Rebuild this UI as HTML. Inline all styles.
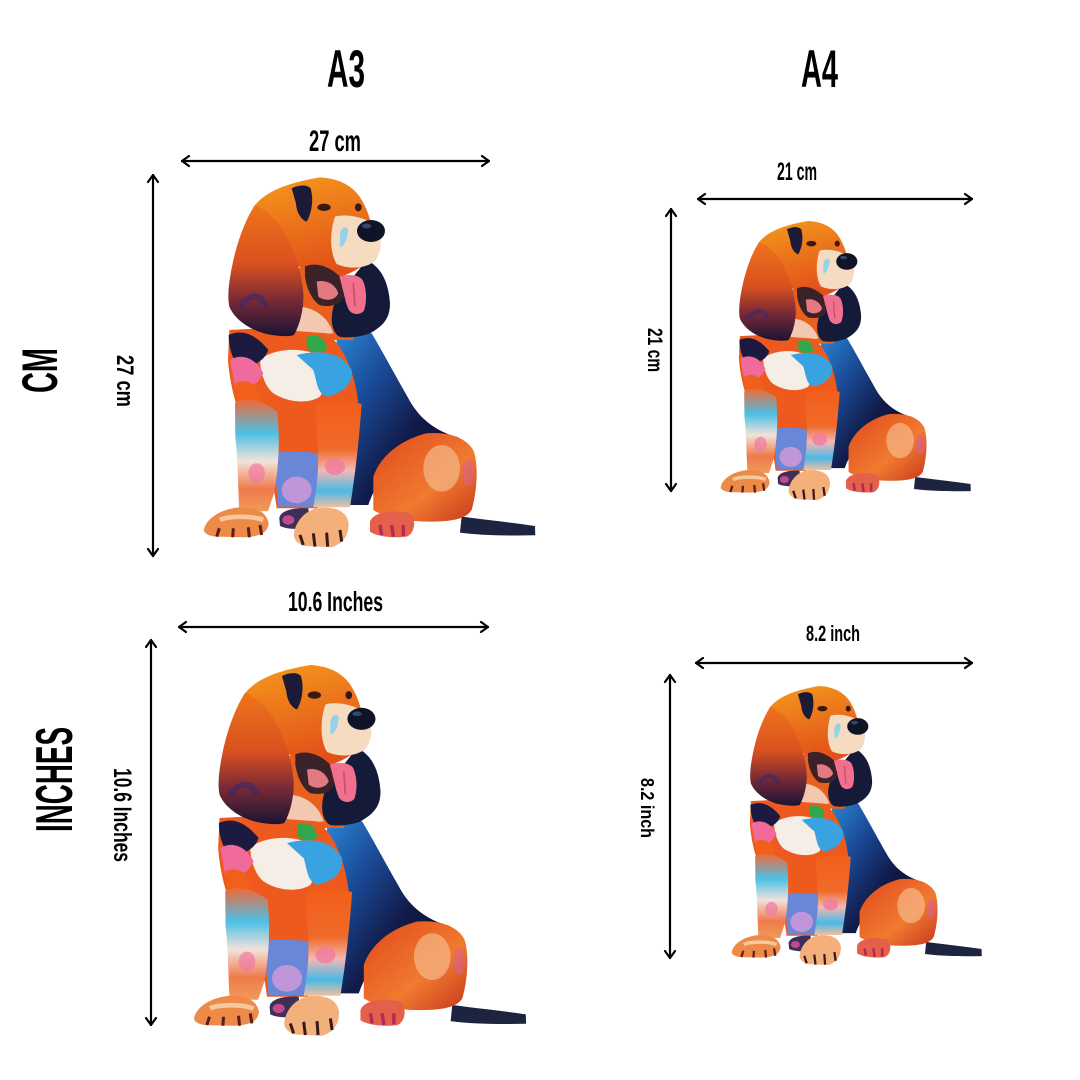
<!DOCTYPE html>
<html><head><meta charset="utf-8"><style>
html,body{margin:0;padding:0;background:#fff;}
svg{display:block;}
text{font-family:"Liberation Sans Narrow","Liberation Sans",sans-serif;font-weight:bold;fill:#000;}
</style></head><body>
<svg width="1080" height="1080" viewBox="0 0 1080 1080" xmlns="http://www.w3.org/2000/svg">
<rect width="1080" height="1080" fill="#fff"/>
<defs>
<linearGradient id="ear" x1="0" y1="0" x2="0" y2="1">
<stop offset="0" stop-color="#ee741c"/><stop offset="0.45" stop-color="#d9501f"/><stop offset="0.72" stop-color="#7a2a36"/><stop offset="1" stop-color="#1a1434"/>
</linearGradient>
<linearGradient id="back" x1="0" y1="0" x2="1" y2="1">
<stop offset="0" stop-color="#2a86d4"/><stop offset="0.3" stop-color="#1a4a96"/><stop offset="0.6" stop-color="#111a48"/><stop offset="1" stop-color="#0b0d28"/>
</linearGradient>
<linearGradient id="head" x1="0" y1="0" x2="0.3" y2="1">
<stop offset="0" stop-color="#f59a1c"/><stop offset="1" stop-color="#e2501a"/>
</linearGradient>
<linearGradient id="thigh" x1="0" y1="0" x2="1" y2="1">
<stop offset="0" stop-color="#e0481a"/><stop offset="0.6" stop-color="#f07a30"/><stop offset="1" stop-color="#c8381c"/>
</linearGradient>
<linearGradient id="lleg" x1="0" y1="0" x2="0" y2="1">
<stop offset="0" stop-color="#ef6a3a"/><stop offset="0.3" stop-color="#4cc0e6"/><stop offset="0.55" stop-color="#f2e2da"/><stop offset="0.8" stop-color="#ef7a4a"/><stop offset="1" stop-color="#f09a5a"/>
</linearGradient>
<linearGradient id="rleg" x1="0" y1="0" x2="0" y2="1">
<stop offset="0" stop-color="#f25e1a"/><stop offset="0.45" stop-color="#f06a2a"/><stop offset="0.65" stop-color="#f3b8b4"/><stop offset="0.85" stop-color="#4ab8e6"/><stop offset="1" stop-color="#f2c0a0"/>
</linearGradient>
<g id="dog">
  <!-- tail -->
  <path d="M965,1190 C1040,1200 1120,1208 1185,1218 L1186,1246 C1100,1248 1020,1246 960,1238 Z" fill="#1c2440"/>
  <!-- body back -->
  <path d="M590,630 L695,640 C725,690 765,765 805,835 C835,892 885,935 955,952 C935,995 865,1005 795,1015 C745,1045 705,1095 685,1155 L630,1155 L620,900 C615,820 600,760 590,700 Z" fill="url(#back)"/>
  <!-- hind thigh -->
  <path d="M700,1070 C720,1010 780,960 860,940 C920,935 980,950 1002,995 C1015,1040 1012,1110 995,1170 C980,1195 940,1205 870,1205 C800,1205 740,1195 700,1170 Z" fill="url(#thigh)"/>
  <ellipse cx="905" cy="1045" rx="55" ry="70" fill="#f6c49a" opacity="0.6"/>
  <ellipse cx="985" cy="1060" rx="18" ry="40" fill="#d860a0" opacity="0.5"/>
  <!-- hind paw -->
  <path d="M690,1205 C700,1175 760,1168 810,1180 C830,1200 825,1240 800,1250 C760,1255 710,1250 690,1235 Z" fill="#e4604a"/>
  <path d="M720,1215 L725,1245 M755,1215 L760,1250 M790,1215 L790,1248" stroke="#b02a5a" stroke-width="10"/>
  <!-- neck -->
  <path d="M450,440 L610,460 C650,520 660,590 640,660 L450,660 Z" fill="#e8601e"/>
  <path d="M470,560 C510,560 560,580 580,640 L470,650 Z" fill="#f2c8b0"/>
  <!-- body/chest front -->
  <path d="M268,630 L360,625 L560,640 C610,675 645,760 655,850 C652,950 635,1050 605,1115 L530,1165 L410,1165 C400,1080 380,1000 320,930 C290,870 270,800 264,720 Z" fill="#ee5a1e"/>
  <!-- belly -->
  <path d="M400,1000 C440,990 500,995 535,1000 L530,1160 L415,1160 Z" fill="#6a86d6"/>
  <ellipse cx="470" cy="1110" rx="45" ry="40" fill="#d59ad8" opacity="0.8"/>
  <!-- chest white -->
  <path d="M360,720 C390,690 470,680 520,700 C555,730 565,790 540,830 C510,850 450,852 400,820 C375,800 362,760 360,720 Z" fill="#f4eee6"/>
  <path d="M470,705 C530,690 600,690 635,750 C640,790 610,820 560,830 C530,820 530,780 520,750 Z" fill="#38a3e0"/>
  <path d="M500,650 C530,640 560,650 560,690 C540,700 510,700 500,680 Z" fill="#33a84a"/>
  <!-- left shoulder -->
  <path d="M266,645 C300,630 340,635 385,690 C370,730 330,745 290,730 C275,710 266,680 266,645 Z" fill="#1c1a40"/>
  <path d="M270,720 C300,700 345,710 370,760 C350,800 310,820 285,800 Z" fill="#f06b9b"/>
  <path d="M285,790 C330,770 360,800 372,860 C340,885 305,875 292,850 Z" fill="#f0601a"/>
  <!-- left front leg -->
  <path d="M285,850 C310,830 370,840 412,875 C420,960 417,1040 402,1120 L384,1174 L298,1174 C294,1100 294,1020 286,950 Z" fill="url(#lleg)"/>
  <ellipse cx="350" cy="1060" rx="25" ry="30" fill="#f07aa5" opacity="0.7"/>
  <!-- back paw -->
  <path d="M418,1195 C420,1172 460,1162 505,1165 L512,1222 C480,1230 440,1228 420,1218 Z" fill="#3d2f5a"/>
  <ellipse cx="445" cy="1200" rx="18" ry="14" fill="#c04a8a"/>
  <!-- front left paw -->
  <path d="M192,1228 C200,1195 240,1170 290,1163 C340,1160 378,1170 386,1210 C384,1238 360,1250 310,1252 L230,1250 C205,1248 190,1240 192,1228 Z" fill="#ee8a48"/>
  <path d="M240,1200 C260,1190 330,1185 370,1200" stroke="#f6c8a0" stroke-width="14" fill="none"/>
  <path d="M238,1225 L230,1250 M280,1225 L278,1252 M325,1222 L328,1252 M360,1215 L365,1245" stroke="#5a1e1c" stroke-width="9"/>
  <!-- front right leg -->
  <path d="M528,855 C570,840 632,842 665,852 C658,950 648,1050 630,1162 L520,1162 C536,1080 538,1000 530,940 Z" fill="url(#rleg)"/>
  <ellipse cx="585" cy="1040" rx="30" ry="25" fill="#f07aa0" opacity="0.8"/>
  <!-- front right paw -->
  <path d="M462,1240 C468,1200 500,1168 540,1163 C590,1160 620,1175 626,1210 C626,1245 612,1270 575,1282 L495,1278 C472,1272 460,1258 462,1240 Z" fill="#f3b07a"/>
  <path d="M480,1245 L490,1275 M520,1240 L525,1280 M560,1238 L563,1280 M600,1230 L605,1265" stroke="#3a1a18" stroke-width="9"/>
  <!-- right ear -->
  <path d="M680,420 C720,440 745,480 750,550 C750,590 735,615 690,640 C660,652 620,655 598,650 C565,630 570,560 600,520 Z" fill="#141a38"/>
  <!-- head -->
  <path d="M340,262 C370,220 430,190 540,172 C600,175 645,200 668,245 C690,285 702,330 700,400 C680,440 620,470 560,482 C500,470 450,420 420,380 C390,330 360,290 340,262 Z" fill="url(#head)"/>
  <!-- forehead stripe -->
  <path d="M455,205 C475,195 500,192 512,205 C522,240 515,280 500,305 C485,300 470,280 468,250 Z" fill="#1d1a38"/>
  <!-- muzzle -->
  <path d="M585,290 C620,280 680,292 710,320 C728,350 726,395 706,422 C680,445 630,450 590,432 C570,400 568,340 585,290 Z" fill="#f5dcc0"/>
  <path d="M600,340 C605,320 620,315 625,330 C622,360 612,380 600,380 Z" fill="#7ad0f0" opacity="0.8"/>
  <!-- nose -->
  <ellipse cx="693" cy="333" rx="42" ry="33" fill="#0f1428"/>
  <ellipse cx="680" cy="318" rx="14" ry="7" fill="#4a6a9a" opacity="0.6"/>
  <!-- eye -->
  <ellipse cx="552" cy="262" rx="20" ry="11" fill="#3a1a10"/>
  <ellipse cx="655" cy="262" rx="10" ry="12" fill="#3a1a10"/>
  <!-- mouth -->
  <path d="M495,440 C520,428 560,432 600,470 L612,530 C600,555 575,562 540,556 C515,540 500,505 495,470 Z" fill="#3a2228"/>
  <path d="M530,485 C555,478 585,490 595,520 C585,542 555,545 535,530 Z" fill="#e27a84"/>
  <!-- tongue -->
  <path d="M598,470 C620,462 655,462 668,480 C682,510 680,550 672,572 C662,585 640,586 628,572 C615,550 610,505 598,470 Z" fill="#f0708e"/>
  <path d="M640,490 L645,560" stroke="#d04a6a" stroke-width="5"/>
  <!-- left ear -->
  <path d="M345,255 C315,300 290,370 276,440 C266,490 262,530 268,560 C285,600 330,630 380,642 C420,650 450,650 462,645 C482,610 492,560 490,520 C485,460 470,410 440,350 C420,310 390,275 345,255 Z" fill="url(#ear)"/>
  <path d="M300,560 C330,520 360,520 380,560" stroke="#3a2a6a" stroke-width="18" fill="none" opacity="0.6"/>
</g>
</defs>

<!-- titles -->
<text x="327" y="87" font-size="53" textLength="38" lengthAdjust="spacingAndGlyphs">A3</text>
<text x="801" y="87" font-size="53" textLength="37" lengthAdjust="spacingAndGlyphs">A4</text>

<text transform="translate(57,393) rotate(-90)" font-size="50" textLength="45" lengthAdjust="spacingAndGlyphs">CM</text>
<text transform="translate(72,832) rotate(-90)" font-size="52" textLength="105" lengthAdjust="spacingAndGlyphs">INCHES</text>

<!-- dimension labels -->
<text x="309" y="151" font-size="30" textLength="52" lengthAdjust="spacingAndGlyphs">27 cm</text>
<text x="777" y="180" font-size="25" textLength="40" lengthAdjust="spacingAndGlyphs">21 cm</text>
<text x="288" y="611" font-size="28" textLength="95" lengthAdjust="spacingAndGlyphs">10.6  Inches</text>
<text x="806" y="641" font-size="22" textLength="54" lengthAdjust="spacingAndGlyphs">8.2 inch</text>

<text transform="translate(117,355) rotate(90)" font-size="24" textLength="52" lengthAdjust="spacingAndGlyphs">27 cm</text>
<text transform="translate(114,768) rotate(90)" font-size="25" textLength="94" lengthAdjust="spacingAndGlyphs">10.6 Inches</text>
<text transform="translate(648,328) rotate(90)" font-size="21" textLength="44" lengthAdjust="spacingAndGlyphs">21 cm</text>
<text transform="translate(641,778) rotate(90)" font-size="18" textLength="60" lengthAdjust="spacingAndGlyphs">8.2 inch</text>

<!-- arrows -->
<g stroke="#000" stroke-width="2.2" fill="none" stroke-linecap="round" stroke-linejoin="round">
  <line x1="182" y1="161" x2="489" y2="161"/>
  <polyline points="189,156 182,161 189,166"/><polyline points="482,156 489,161 482,166"/>
  <line x1="153" y1="175" x2="153" y2="556"/>
  <polyline points="148,182 153,175 158,182"/><polyline points="148,549 153,556 158,549"/>

  <line x1="698" y1="199" x2="972" y2="199"/>
  <polyline points="705,194 698,199 705,204"/><polyline points="965,194 972,199 965,204"/>
  <line x1="671" y1="209" x2="671" y2="491"/>
  <polyline points="666,216 671,209 676,216"/><polyline points="666,484 671,491 676,484"/>

  <line x1="179" y1="627" x2="488" y2="627"/>
  <polyline points="186,622 179,627 186,632"/><polyline points="481,622 488,627 481,632"/>
  <line x1="151" y1="640" x2="151" y2="1025"/>
  <polyline points="146,647 151,640 156,647"/><polyline points="146,1018 151,1025 156,1018"/>

  <line x1="696" y1="663" x2="972" y2="663"/>
  <polyline points="703,658 696,663 703,668"/><polyline points="965,658 972,663 965,668"/>
  <line x1="670" y1="675" x2="670" y2="958"/>
  <polyline points="665,682 670,675 675,682"/><polyline points="665,951 670,958 675,951"/>
</g>

<!-- dogs -->
<use href="#dog" transform="translate(140,120) scale(0.3333)"/>
<use href="#dog" transform="translate(672.5,177.7) scale(0.2515)"/>
<use href="#dog" transform="translate(130,607.6) scale(0.334)"/>
<use href="#dog" transform="translate(683.5,642.7) scale(0.2515)"/>
</svg>
</body></html>
